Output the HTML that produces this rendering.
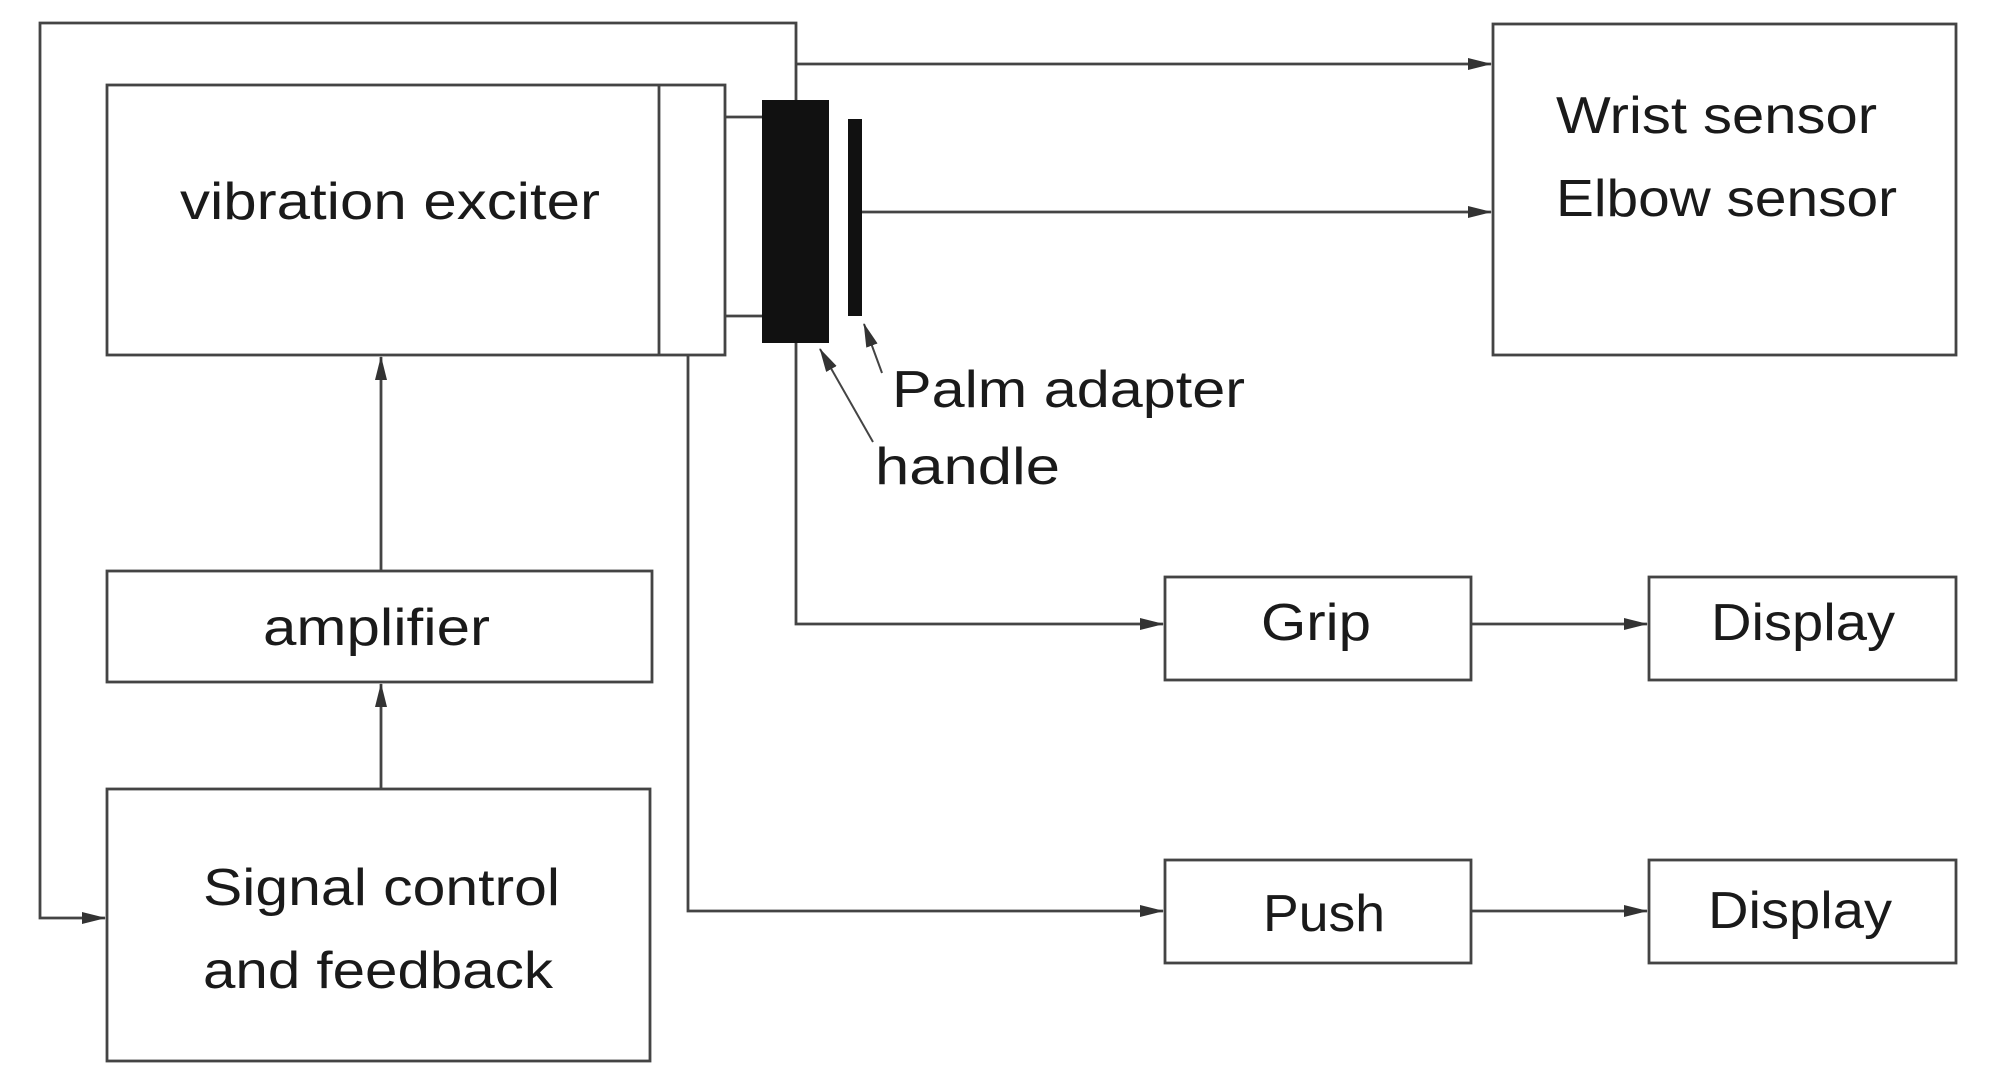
<!DOCTYPE html>
<html><head><meta charset="utf-8"><style>html,body{margin:0;padding:0;background:#fff}svg{display:block}</style></head><body>
<svg width="1994" height="1085" viewBox="0 0 1994 1085" xmlns="http://www.w3.org/2000/svg">
<defs><marker id="a" markerWidth="24" markerHeight="12" refX="23" refY="6" orient="auto" markerUnits="userSpaceOnUse"><path d="M0,0 L24,6 L0,12 Z" fill="#333"/></marker></defs>
<g fill="none" stroke="#444" stroke-width="2.8">
<rect x="107" y="85" width="618" height="270"/>
<line x1="659" y1="85" x2="659" y2="355"/>
<rect x="107" y="571" width="545" height="111"/>
<rect x="107" y="789" width="543" height="272"/>
<rect x="1493" y="24" width="463" height="331"/>
<rect x="1165" y="577" width="306" height="103"/>
<rect x="1649" y="577" width="307" height="103"/>
<rect x="1165" y="860" width="306" height="103"/>
<rect x="1649" y="860" width="307" height="103"/>
<line x1="725" y1="117" x2="762" y2="117"/>
<line x1="725" y1="316" x2="762" y2="316"/>
<polyline points="796,100 796,23 40,23 40,918 105,918" marker-end="url(#a)"/>
<polyline points="796,64 1491,64" marker-end="url(#a)"/>
<polyline points="862,212 1491,212" marker-end="url(#a)"/>
<polyline points="796,343 796,624 1163,624" marker-end="url(#a)"/>
<polyline points="688,355 688,911 1163,911" marker-end="url(#a)"/>
<polyline points="1471,624 1647,624" marker-end="url(#a)"/>
<polyline points="1471,911 1647,911" marker-end="url(#a)"/>
<polyline points="381,571 381,357" marker-end="url(#a)"/>
<polyline points="381,789 381,684" marker-end="url(#a)"/>
<polyline points="882,373 864,324" marker-end="url(#a)" stroke-width="2"/>
<polyline points="873,442 820,349" marker-end="url(#a)" stroke-width="2"/>
</g>
<rect x="762" y="100" width="67" height="243" fill="#111"/>
<rect x="848" y="119" width="14" height="197" fill="#111"/>
<g font-family="Liberation Sans, sans-serif" font-size="52" fill="#1a1a1a">
<text x="180" y="219" textLength="420" lengthAdjust="spacingAndGlyphs">vibration exciter</text>
<text x="263" y="645" textLength="227" lengthAdjust="spacingAndGlyphs">amplifier</text>
<text x="203" y="905" textLength="357" lengthAdjust="spacingAndGlyphs">Signal control</text>
<text x="203" y="988" textLength="350" lengthAdjust="spacingAndGlyphs">and feedback</text>
<text x="1556" y="133" textLength="321" lengthAdjust="spacingAndGlyphs">Wrist sensor</text>
<text x="1556" y="216" textLength="341" lengthAdjust="spacingAndGlyphs">Elbow sensor</text>
<text x="1261" y="640" textLength="110" lengthAdjust="spacingAndGlyphs">Grip</text>
<text x="1711" y="640" textLength="184" lengthAdjust="spacingAndGlyphs">Display</text>
<text x="1263" y="931" textLength="122" lengthAdjust="spacingAndGlyphs">Push</text>
<text x="1708" y="928" textLength="184" lengthAdjust="spacingAndGlyphs">Display</text>
<text x="892" y="407" textLength="353" lengthAdjust="spacingAndGlyphs">Palm adapter</text>
<text x="875" y="484" textLength="185" lengthAdjust="spacingAndGlyphs">handle</text>
</g>
</svg>
</body></html>
